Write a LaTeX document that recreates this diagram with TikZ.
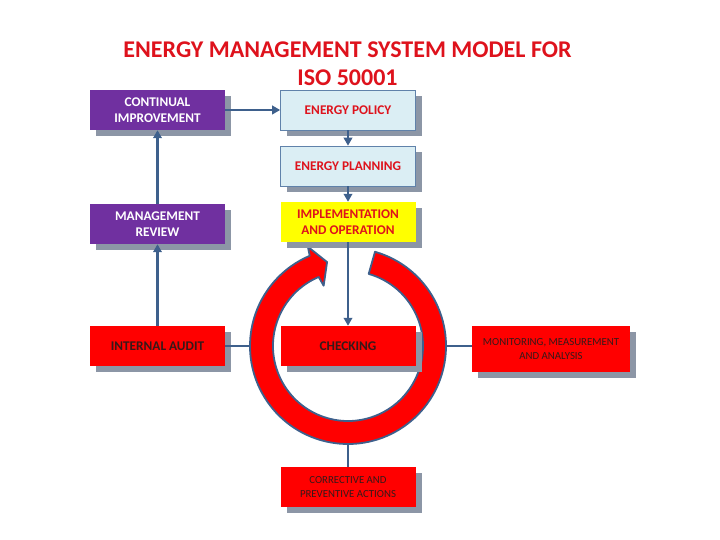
\documentclass[tikz,border=0pt]{standalone}
\usepackage{fontspec}
\setmainfont{Carlito}
\usepackage{tikz}
\usetikzlibrary{arrows.meta,positioning,shadows,calc}
\definecolor{enpurple}{RGB}{112,48,160}
\definecolor{enblue}{RGB}{219,238,244}
\definecolor{enborder}{RGB}{96,130,170}
\definecolor{enyellow}{RGB}{255,255,0}
\definecolor{enred}{RGB}{255,0,0}
\definecolor{entitle}{RGB}{222,18,28}
\definecolor{endark}{RGB}{55,25,25}
\definecolor{enline}{RGB}{62,96,140}
\definecolor{enshadow}{RGB}{140,150,166}

\begin{document}
\begin{tikzpicture}[x=1pt,y=1pt,
  box/.style={minimum width=135pt, minimum height=40pt, inner sep=2pt, align=center,
    drop shadow={shadow xshift=6pt, shadow yshift=-6pt, fill=enshadow, opacity=1}},
  purplebox/.style={box, fill=enpurple, text=white, font=\bfseries\fontsize{13.3}{16.5}\selectfont},
  bluebox/.style={box, fill=enblue, draw=enborder, line width=0.6pt, text=entitle, font=\bfseries\fontsize{13.3}{16.5}\selectfont},
  yellowbox/.style={box, fill=enyellow, text=entitle, font=\bfseries\fontsize{13.3}{16.5}\selectfont},
  redbox/.style={box, fill=enred, text=endark, font=\bfseries\fontsize{13.3}{16.5}\selectfont},
  smallred/.style={redbox, font=\fontsize{10.8}{13.5}\selectfont},
  flow/.style={draw=enline, line width=2.8pt, -{Triangle[length=8pt,width=8.5pt]}},
  link/.style={draw=enline, line width=2.8pt}]
\useasboundingbox (0,0) rectangle (720,540);
% Title
\node[text=entitle, font=\bfseries\fontsize{24}{28}\selectfont, align=center, inner sep=0pt]
  (title) at (347.5,476.5) {ENERGY MANAGEMENT SYSTEM MODEL FOR\\ISO 50001};
% Cycle ring with arrowhead
\coordinate (ring) at (348,194);
\filldraw[fill=enred, draw=enline, line width=1.8pt, line join=round]
  ($(ring)+(74:98)$) arc[start angle=74, end angle=-247, radius=98]
  -- ($(ring)+(-248:107)$) -- ($(ring)+(-256:86.5)$) -- ($(ring)+(-248:65)$)
  -- ($(ring)+(-247:75)$) arc[start angle=-247, end angle=74, radius=75] -- cycle;
\coordinate (ringW) at ($(ring)+(180:98)$);
\coordinate (ringE) at ($(ring)+(0:98)$);
\coordinate (ringS) at ($(ring)+(-90:98)$);
% Left column
\node[purplebox] (conti) at (157.5,430) {CONTINUAL\\IMPROVEMENT};
\node[purplebox] (review) at (157.5,316) {MANAGEMENT\\REVIEW};
\node[redbox] (audit) at (157.5,194) {INTERNAL AUDIT};
% Middle column
\node[bluebox] (policy) at (348,430) {ENERGY POLICY};
\node[bluebox] (planning) at (348,374) {ENERGY PLANNING};
\node[yellowbox] (implement) at (348,318) {IMPLEMENTATION\\AND OPERATION};
\node[redbox] (checking) at (348,194) {CHECKING};
\node[smallred] (corrective) at (348,53) {CORRECTIVE AND\\PREVENTIVE ACTIONS};
% Right side
\node[smallred, minimum width=158pt, minimum height=46pt] (monitor) at (551,191) {MONITORING, MEASUREMENT\\AND ANALYSIS};
% Connectors
\draw[flow] (conti) -- (policy);
\draw[flow] (policy) -- (planning);
\draw[flow] (planning) -- (implement);
\draw[flow] (implement) -- (checking);
\draw[flow] (review) -- (conti);
\draw[flow] (audit) -- (review);
\draw[link] (audit) -- (ringW);
\draw[link] (ringE) -- (ringE -| monitor.west);
\draw[link] (ringS) -- (corrective);
\end{tikzpicture}
\end{document}
